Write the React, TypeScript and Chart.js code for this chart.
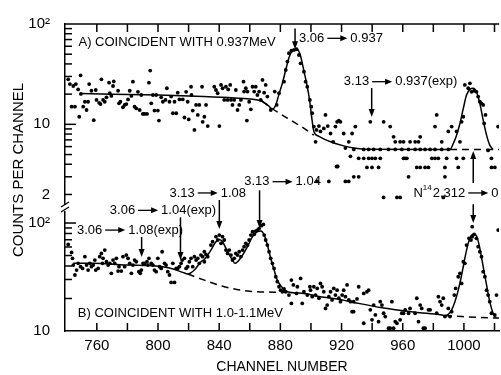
import React, { useEffect, useRef } from 'react';
import { Chart, registerables } from 'chart.js';

Chart.register(...registerables);

const FONT = '"Liberation Sans", "DejaVu Sans", Arial, sans-serif';

// ---- axis ranges & ticks ----
const X_MIN = 739.2;
const X_MAX = 1023;
const X_LABEL_TICKS = [760, 800, 840, 880, 920, 960, 1000];
const X_MARK_TICKS = [760, 780, 800, 820, 840, 860, 880, 900, 920, 940, 960, 980, 1000, 1020];

const TOP_MIN = 1.4;
const TOP_MAX = 100;
const TOP_LABEL_TICKS = [2, 10, 100];
const TOP_MINOR_TICKS = [2, 3, 4, 5, 6, 7, 8, 9, 20, 30, 40, 50, 60, 70, 80, 90];
const TOP_MAJOR_TICKS = [10];

const BOT_MIN = 10;
const BOT_MAX = 132;
const BOT_LABEL_TICKS = [10, 100];
const BOT_MINOR_TICKS = [20, 30, 40, 50, 60, 70, 80, 90];
const BOT_MAJOR_TICKS = [100];

// ---- panel A: coincident with 0.937 MeV  [channel, counts] ----
const TOP_POINTS: [number, number][] = [
  [741.3, 28.1], [742.4, 25.2], [744.6, 24.1], [746.3, 25.2], [749.4, 30.8], [747.8, 22.3], [749.6, 20.1],
  [743.5, 15.0], [745.7, 15.0], [748.5, 11.9], [751.1, 15.0], [752.2, 16.8], [753.3, 13.9], [754.3, 16.8],
  [755.0, 25.2], [756.5, 21.6], [758.0, 11.0], [759.3, 22.0], [759.8, 17.5], [761.5, 16.4], [763.0, 28.1],
  [762.4, 15.9], [764.1, 17.5], [765.2, 16.8], [766.3, 18.6], [768.0, 26.0], [768.5, 20.4], [769.5, 19.2],
  [770.6, 24.1], [771.1, 26.8], [773.9, 21.6], [774.5, 16.2], [775.4, 16.8], [777.1, 14.8], [778.2, 15.6],
  [779.3, 15.9], [780.4, 17.7], [781.5, 21.6], [782.6, 19.2], [783.6, 26.6], [784.7, 15.0], [785.8, 14.4],
  [786.9, 21.1], [788.0, 13.9], [789.1, 19.6], [790.1, 12.7], [791.2, 12.7], [792.8, 12.7], [794.1, 26.0],
  [794.9, 34.3], [795.6, 16.2], [796.7, 19.6], [798.8, 19.6], [797.7, 13.7], [799.9, 13.7], [800.6, 10.9],
  [802.1, 18.6], [803.2, 16.8], [804.9, 17.5], [805.8, 22.9], [807.5, 16.8], [808.6, 18.9], [809.7, 12.9],
  [810.8, 16.8], [811.9, 12.9], [812.9, 20.7], [814.0, 17.7], [816.2, 17.7], [817.3, 11.7], [818.4, 21.1],
  [819.4, 16.8], [820.1, 11.2], [821.6, 23.7], [821.9, 19.6], [822.7, 13.7], [823.8, 8.8], [824.9, 15.6],
  [826.0, 12.4], [827.0, 15.6], [828.8, 23.7], [829.2, 10.6], [830.3, 11.9], [831.4, 15.6], [832.5, 9.6],
  [836.8, 23.7], [837.9, 22.0], [839.0, 20.4], [840.1, 9.6], [841.2, 24.7], [842.2, 22.9], [843.3, 17.5],
  [844.4, 23.7], [845.5, 17.5], [845.9, 22.3], [847.2, 24.7], [847.7, 17.5], [848.7, 15.6], [849.8, 17.5],
  [850.9, 22.0], [852.0, 13.9], [853.1, 15.6], [854.2, 17.5], [855.9, 26.6], [856.3, 21.2], [857.4, 22.9],
  [858.1, 10.9], [858.5, 21.2], [859.6, 16.8], [860.7, 14.1], [861.8, 23.7], [862.9, 21.2], [863.9, 23.7],
  [865.0, 19.6], [866.1, 21.2], [867.2, 17.5], [868.3, 27.7], [869.4, 20.7], [870.4, 24.7], [871.5, 18.9],
  [873.7, 13.9], [876.3, 21.2], [877.6, 15.6], [879.1, 20.4], [882.4, 26.6], [883.5, 34.8], [884.6, 42.2],
  [885.6, 51.1], [887.2, 54.2], [888.9, 55.1], [890.6, 56.0], [892.1, 49.1], [893.2, 40.6], [895.4, 33.5],
  [896.5, 26.6], [897.6, 23.7], [899.3, 17.5], [900.2, 15.0], [900.8, 12.9], [901.9, 9.5], [903.6, 8.8],
  [905.2, 9.6], [906.2, 8.5], [903.0, 6.7], [908.4, 9.1], [909.5, 12.4], [911.0, 9.6], [912.8, 8.1],
  [916.0, 9.5], [917.1, 10.6], [918.2, 10.9], [919.3, 10.6], [914.5, 6.7], [921.4, 8.1], [922.5, 5.8],
  [924.7, 6.7], [925.8, 4.8], [926.9, 8.1], [916.7, 3.8], [917.5, 3.8], [904.1, 2.7], [911.7, 2.7],
  [922.5, 2.7], [924.7, 2.7], [928.0, 3.0], [931.2, 3.0],
  [929.0, 9.5], [938.8, 10.6], [947.5, 10.6], [951.8, 9.5], [954.0, 7.5], [955.1, 6.7], [958.3, 6.7],
  [960.5, 6.7], [964.8, 6.7], [968.1, 6.7], [970.3, 6.7], [971.4, 7.5], [982.2, 12.4], [981.1, 9.5],
  [985.5, 6.7], [989.8, 8.5], [992.0, 9.5], [995.2, 8.5], [997.4, 6.7], [998.5, 10.6], [999.6, 11.9],
  [1000.6, 24.7], [1002.8, 22.9], [1003.9, 25.6], [1005.0, 21.1], [1006.7, 21.6], [1008.2, 21.1],
  [1009.3, 18.9], [1010.4, 16.8], [1011.5, 16.2], [1012.6, 15.6], [1013.2, 10.2], [1014.1, 12.4],
  [928.0, 5.62], [934.5, 5.62], [937.7, 5.62], [941.0, 5.62], [945.3, 5.62], [950.7, 5.62], [955.1, 5.62],
  [959.4, 5.62], [963.8, 5.62], [968.1, 5.62], [971.4, 5.62], [974.6, 5.62], [977.9, 5.62], [981.1, 5.62],
  [985.5, 5.62], [989.8, 5.62],
  [931.2, 4.58], [934.5, 4.58], [937.7, 4.58], [939.9, 4.58], [942.1, 4.58], [945.3, 4.58], [960.5, 4.58],
  [961.6, 4.58], [962.7, 4.58], [979.0, 4.58], [981.1, 4.58], [983.3, 4.58], [988.7, 4.58], [995.2, 4.58],
  [999.6, 4.58], [1018.0, 4.58],
  [936.6, 3.72], [939.9, 3.72], [944.2, 3.72], [969.2, 3.72], [971.4, 3.72], [974.6, 3.72], [976.8, 3.72],
  [987.6, 3.72], [996.3, 3.72], [1018.0, 3.72], [1020.2, 3.72],
  [963.8, 3.0], [987.6, 3.0],
  [947.5, 1.87], [956.2, 1.87], [958.3, 1.87], [986.5, 1.87],
  [1022.3, 9.5], [1015.8, 5.5],
];

const TOP_FIT: [number, number][] = [
  [749, 20.3], [770, 20.0], [800, 19.6], [830, 18.9], [850, 18.3], [862, 17.8], [868, 17.0], [872, 15.4],
  [874.8, 14.2], [877, 15.6], [879.1, 20], [881.3, 25.7], [883.5, 34.8], [885.6, 46], [887.2, 52.5],
  [888.9, 55], [891, 56], [893.2, 48], [895.4, 34], [897.6, 23.7], [899.3, 16.5], [900.8, 10.8],
  [901.9, 8.5], [905.2, 7.6], [912.8, 6.7], [921.4, 6.1], [928, 5.8], [935, 5.65], [990.9, 5.62],
  [993.1, 6.46], [995.2, 7.8], [997.4, 10.2], [999.6, 14.4], [1001.7, 19.6], [1003.9, 22.3],
  [1006.1, 22.9], [1008.2, 21.1], [1010.4, 16.2], [1012.6, 11.0], [1014.8, 7.8], [1016.9, 6.2],
  [1019.1, 5.62],
];
const TOP_BACKGROUND_A: [number, number][] = [
  [868, 17.0], [874.8, 14.3], [884.6, 11.5], [893.2, 9.6], [901.9, 7.8],
];
const TOP_BACKGROUND_B: [number, number][] = [
  [990.9, 5.62], [1023, 5.62],
];

// ---- panel B: coincident with 1.0-1.1 MeV  [channel, counts] ----
const BOTTOM_POINTS: [number, number][] = [
  [741.3, 63.4], [743.5, 53.4], [744.1, 47.1], [744.6, 40.8], [745.7, 33.0], [746.8, 36.7], [747.8, 42.3],
  [749.4, 39.4], [750.7, 38.0], [752.2, 48.8], [753.3, 40.8], [754.3, 36.7], [755.4, 42.3], [756.5, 39.4],
  [757.6, 40.8], [758.7, 45.4], [759.3, 36.7], [760.9, 38.0], [761.9, 48.8], [763.0, 52.3], [763.7, 42.3],
  [764.1, 47.1], [765.2, 56.2], [766.3, 43.8], [767.4, 40.8], [768.5, 42.3], [769.5, 34.2], [770.6, 45.4],
  [771.7, 42.3], [772.8, 47.1], [773.9, 35.9], [774.5, 39.4], [776.0, 35.9], [777.1, 48.8], [778.2, 39.4],
  [779.3, 50.5], [780.4, 47.1], [781.5, 42.3], [782.6, 34.2], [783.6, 40.8], [784.7, 45.4], [785.8, 43.8],
  [787.5, 35.4], [788.4, 34.2], [789.1, 36.7], [790.2, 42.3], [791.2, 42.3], [792.8, 43.8], [793.4, 40.8],
  [794.1, 47.1], [795.6, 42.3], [796.7, 40.8], [797.7, 36.7], [798.8, 35.4], [799.9, 47.1], [801.0, 39.4],
  [802.1, 38.0], [802.7, 54.2], [804.3, 42.3], [805.3, 40.8], [806.4, 35.4], [807.5, 33.0], [808.6, 28.2],
  [810.8, 28.2], [809.7, 42.3], [811.9, 38.0], [812.9, 38.0], [814.0, 39.4], [815.1, 42.3], [815.8, 45.4],
  [817.3, 47.1], [818.4, 38.0], [819.4, 39.4], [820.5, 43.8], [821.6, 47.1], [822.7, 39.4], [823.8, 48.8],
  [824.9, 45.4], [826.0, 47.1], [827.0, 42.3], [828.1, 50.5], [829.2, 48.8], [830.3, 54.2], [831.4, 51.2],
  [830.3, 43.8], [832.5, 48.8], [834.6, 62.5], [835.7, 67.1], [837.9, 74.7], [839.0, 69.6], [840.1, 77.4],
  [841.2, 64.8], [842.2, 74.7], [843.3, 69.6], [844.4, 56.2], [845.5, 52.3], [846.6, 56.2], [847.7, 50.5],
  [848.7, 45.4], [849.8, 47.1], [850.9, 52.3], [852.0, 50.5], [853.1, 54.2], [854.2, 48.8], [855.3, 56.2],
  [856.3, 60.4], [857.4, 64.8], [858.5, 62.5], [859.6, 69.6], [860.7, 77.4], [861.8, 83.1], [862.9, 78.5],
  [863.9, 84.3], [865.0, 86.1], [866.1, 89.2], [867.6, 94.4], [868.9, 97.1], [869.4, 77.4], [870.4, 69.6],
  [871.5, 62.5], [872.6, 54.2], [873.7, 47.1], [874.8, 42.3], [875.9, 38.0], [877.0, 31.8], [878.0, 28.6],
  [879.1, 25.7], [880.2, 23.9], [881.3, 23.1], [882.4, 24.5], [883.5, 23.1], [885.6, 21.5], [887.2, 29.6],
  [888.5, 26.7], [891.1, 25.7], [893.2, 30.7], [887.2, 18.0], [890.6, 22.3], [894.3, 18.0], [895.4, 23.1],
  [897.6, 21.5], [899.3, 25.7], [899.7, 23.9], [900.8, 20.8], [901.9, 25.7], [903.0, 21.5], [904.1, 24.8],
  [905.2, 20.1], [906.2, 27.6], [907.3, 25.7], [908.4, 23.1], [909.5, 16.2], [910.6, 17.4], [911.7, 20.8],
  [912.8, 23.1], [913.8, 19.4], [914.9, 24.8], [916.0, 21.5], [917.1, 23.9], [918.2, 20.1], [919.3, 18.7],
  [920.4, 21.5], [921.4, 23.9], [922.5, 20.8], [923.6, 26.7], [924.7, 19.4], [925.8, 18.7], [926.9, 15.1],
  [927.9, 18.7], [930.1, 19.8], [931.2, 25.7], [934.5, 22.3], [936.6, 23.1], [927.9, 15.1], [937.7, 23.9],
  [938.8, 15.7], [941.0, 17.4], [934.5, 11.8], [939.9, 12.7], [942.1, 14.1], [944.2, 12.2], [945.3, 18.7],
  [946.4, 17.4], [947.5, 14.6], [948.6, 13.6], [950.7, 10.6], [951.8, 10.6], [952.9, 18.7], [954.0, 10.6],
  [955.1, 12.2], [956.2, 11.8], [958.3, 12.7], [959.4, 14.6], [960.5, 14.6], [961.6, 15.7], [963.8, 14.6],
  [964.8, 16.2], [968.1, 14.6], [969.2, 20.1], [970.3, 12.2], [971.4, 17.4], [972.4, 16.2], [973.5, 10.6],
  [974.6, 10.6], [976.8, 15.7], [977.9, 15.7], [982.2, 14.6], [983.3, 20.8], [984.4, 18.7], [985.5, 17.4],
  [986.5, 20.1], [987.6, 13.6], [989.8, 16.2], [990.9, 13.6], [992.0, 15.1], [993.7, 21.5], [994.6, 24.8],
  [996.3, 31.8], [997.4, 34.2], [998.5, 27.6], [999.6, 43.8], [1000.6, 42.3], [1001.7, 62.5], [1003.3, 72.1],
  [1004.6, 69.6], [1005.4, 74.7], [1006.7, 78.5], [1008.2, 72.1], [1009.3, 60.4], [1010.4, 54.2],
  [1011.5, 48.8], [1012.6, 35.4], [1013.7, 31.8], [1014.8, 23.9], [1015.8, 21.5], [1016.9, 18.7],
  [1018.0, 14.6], [1005.4, 92.5], [1021.3, 21.5], [1020.2, 14.1], [1022.4, 86.0],
];

const BOTTOM_FIT: [number, number][] = [
  [744.6, 42.3], [757.6, 42.3], [779.3, 40.8], [796.7, 40.3], [807.5, 38.3], [816.2, 34.9], [819.4, 33.7],
  [823.8, 36.7], [828.1, 43.8], [830.3, 46], [834.6, 56.2], [837.9, 67.1], [840.1, 70.4], [842.2, 67.1],
  [845.5, 54.2], [848.7, 45.4], [850.3, 42.3], [852, 43.8], [855.3, 50.5], [858.5, 60.4], [861.8, 74.7],
  [865, 83.1], [867.2, 84.3], [869.4, 77.4], [871.5, 62.5], [873.7, 47.1], [875.9, 36.7], [878, 29.6],
  [881.3, 25.2], [884.5, 23.1], [895.4, 22.3], [906.2, 20.8], [917.1, 19.8], [928, 18.4], [946.4, 16.4],
  [968.1, 14.9], [985.5, 14.1], [987.6, 13.9], [989.8, 14.3], [992, 15.7], [994.1, 18.7], [996.3, 23.9],
  [998.5, 33], [1000.6, 47.1], [1002.8, 64.8], [1005, 77.4], [1006.7, 78.5], [1008.5, 74.7], [1010.4, 58.3],
  [1012.6, 39.4], [1014.8, 26.7], [1016.9, 18.7], [1018.7, 15.1], [1020.2, 13.6], [1021.3, 13.3],
];
const BOTTOM_BACKGROUND_A: [number, number][] = [
  [819.4, 33.7], [830.3, 29.6], [843.3, 25.7], [858.5, 23.5], [875.9, 22.9], [884.5, 22.9],
];
const BOTTOM_BACKGROUND_B: [number, number][] = [
  [987.6, 13.9], [1021.3, 13.2], [1023, 13.2],
];

// ---- annotations (anchored in data coordinates) ----
const PANEL_TITLES = [
  { text: 'A) COINCIDENT WITH 0.937MeV', c: 748, v: 65, axis: 'yTop' },
  { text: 'B) COINCIDENT WITH 1.0-1.1MeV', c: 747.6, v: 14.7, axis: 'yBot' },
];
const TRANSITIONS = [
  { pre: '', sup: '', from: '3.06', to: '0.937', c: 892.2, v: 72, axis: 'yTop' },
  { pre: '', sup: '', from: '3.13', to: '0.937(exp)', c: 921.5, v: 26.6, axis: 'yTop' },
  { pre: 'N', sup: '14', from: '2.312', to: '0', c: 967, v: 2.07, axis: 'yTop' },
  { pre: '', sup: '', from: '3.13', to: '1.04', c: 856.4, v: 2.68, axis: 'yTop' },
  { pre: '', sup: '', from: '3.13', to: '1.08', c: 807.5, v: 2.07, axis: 'yTop' },
  { pre: '', sup: '', from: '3.06', to: '1.04(exp)', c: 768.5, v: 131, axis: 'yBot' },
  { pre: '', sup: '', from: '3.06', to: '1.08(exp)', c: 747, v: 86, axis: 'yBot' },
];
const POINTERS = [
  { c: 889.6, v1: 90, a1: 'yTop', v2: 56, a2: 'yTop' },
  { c: 939.7, v1: 23, a1: 'yTop', v2: 11.8, a2: 'yTop' },
  { c: 1006.1, v1: 2.6, a1: 'yTop', v2: 5.42, a2: 'yTop' },
  { c: 1006.1, v1: 1.6, a1: 'yTop', v2: 100, a2: 'yBot' },
  { c: 866.4, v1: 2.2, a1: 'yTop', v2: 90, a2: 'yBot' },
  { c: 840.1, v1: 1.76, a1: 'yTop', v2: 88, a2: 'yBot' },
  { c: 814.7, v1: 113, a1: 'yBot', v2: 45.4, a2: 'yBot' },
  { c: 789.3, v1: 74, a1: 'yBot', v2: 48.5, a2: 'yBot' },
];

const toXY = (arr: [number, number][]) => arr.map(([x, y]) => ({ x, y }));

const decorPlugin = {
  id: 'decor',
  afterDraw(chart: any) {
    const ctx = chart.ctx as CanvasRenderingContext2D;
    const { left, right, top, bottom } = chart.chartArea;
    const xs = chart.scales.x;
    const yt = chart.scales.yTop;
    const yb = chart.scales.yBot;
    const scaleOf = (a: string) => (a === 'yTop' ? yt : yb);
    const seg = (x1: number, y1: number, x2: number, y2: number) => {
      ctx.beginPath();
      ctx.moveTo(x1, y1);
      ctx.lineTo(x2, y2);
      ctx.stroke();
    };
    ctx.save();
    ctx.strokeStyle = '#000';
    ctx.fillStyle = '#000';
    ctx.lineWidth = 1.5;

    // top frame line
    seg(left, top, right, top);

    // inward tick marks on x (top and bottom)
    for (const v of X_MARK_TICKS) {
      const px = xs.getPixelForValue(v);
      seg(px, top, px, top + 8);
      seg(px, bottom, px, bottom - 8);
    }
    // inward y ticks
    for (const v of TOP_MINOR_TICKS) { const py = yt.getPixelForValue(v); seg(left, py, left + 7, py); }
    for (const v of TOP_MAJOR_TICKS) { const py = yt.getPixelForValue(v); seg(left, py, left + 11, py); }
    for (const v of BOT_MINOR_TICKS) { const py = yb.getPixelForValue(v); seg(left, py, left + 7, py); }
    for (const v of BOT_MAJOR_TICKS) { const py = yb.getPixelForValue(v); seg(left, py, left + 11, py); }

    // axis break marks
    const by = yt.bottom - 1;
    ctx.fillStyle = '#fff';
    ctx.fillRect(left - 3, by - 4, 6, 6);
    ctx.fillStyle = '#000';
    ctx.lineWidth = 1.3;
    seg(left - 4, by - 2, left + 4, by - 7);
    seg(left - 4, by + 3, left + 4, by - 2);
    ctx.lineWidth = 1.5;

    // vertical pointer arrows
    for (const p of POINTERS) {
      const px = xs.getPixelForValue(p.c);
      const y1 = scaleOf(p.a1).getPixelForValue(p.v1);
      const y2 = scaleOf(p.a2).getPixelForValue(p.v2);
      const dir = y2 > y1 ? 1 : -1;
      seg(px, y1, px, y2 - dir * 5);
      ctx.beginPath();
      ctx.moveTo(px, y2);
      ctx.lineTo(px - 3, y2 - dir * 8);
      ctx.lineTo(px + 3, y2 - dir * 8);
      ctx.closePath();
      ctx.fill();
    }

    // panel titles
    ctx.textBaseline = 'middle';
    ctx.textAlign = 'left';
    ctx.font = `13px ${FONT}`;
    for (const t of PANEL_TITLES) {
      ctx.fillText(t.text, xs.getPixelForValue(t.c), scaleOf(t.axis).getPixelForValue(t.v));
    }

    // transition labels  "a ──► b"
    for (const t of TRANSITIONS) {
      let x = xs.getPixelForValue(t.c);
      const y = scaleOf(t.axis).getPixelForValue(t.v);
      ctx.font = `13px ${FONT}`;
      if (t.pre) {
        ctx.fillText(t.pre, x, y);
        x += ctx.measureText(t.pre).width;
        ctx.font = `8px ${FONT}`;
        ctx.fillText(t.sup, x, y - 5);
        x += ctx.measureText(t.sup).width + 1;
        ctx.font = `13px ${FONT}`;
      }
      ctx.fillText(t.from, x, y);
      x += ctx.measureText(t.from).width + 3;
      const len = 20;
      ctx.lineWidth = 1.3;
      seg(x, y, x + len - 5, y);
      ctx.beginPath();
      ctx.moveTo(x + len, y);
      ctx.lineTo(x + len - 7, y - 3);
      ctx.lineTo(x + len - 7, y + 3);
      ctx.closePath();
      ctx.fill();
      x += len + 3;
      ctx.fillText(t.to, x, y);
    }

    // axis titles
    ctx.font = `15px ${FONT}`;
    ctx.textAlign = 'center';
    ctx.save();
    ctx.translate(19, 170);
    ctx.rotate(-Math.PI / 2);
    ctx.fillText('COUNTS PER CHANNEL', 0, 0);
    ctx.restore();
    ctx.font = `14px ${FONT}`;
    ctx.fillText('CHANNEL NUMBER', 282, 367);
    ctx.restore();
  },
};

export default function App() {
  const ref = useRef<HTMLCanvasElement>(null);
  useEffect(() => {
    document.body.style.margin = '0';
    const canvas = ref.current as HTMLCanvasElement;
    const dot = { pointRadius: 1.9, pointHoverRadius: 1.9, backgroundColor: '#000', borderWidth: 0, showLine: false };
    const line = { pointRadius: 0, borderColor: '#000', borderWidth: 1.5, showLine: true, fill: false, cubicInterpolationMode: 'monotone' };
    const chart = new Chart(canvas, {
      type: 'scatter',
      data: {
        datasets: [
          { label: 'A counts', data: toXY(TOP_POINTS), yAxisID: 'yTop', ...dot },
          { label: 'A fit', data: toXY(TOP_FIT), yAxisID: 'yTop', ...line },
          { label: 'A background', data: toXY(TOP_BACKGROUND_A), yAxisID: 'yTop', ...line, borderDash: [7, 5] },
          { label: 'A background 2', data: toXY(TOP_BACKGROUND_B), yAxisID: 'yTop', ...line, borderDash: [7, 5] },
          { label: 'B counts', data: toXY(BOTTOM_POINTS), yAxisID: 'yBot', ...dot },
          { label: 'B fit', data: toXY(BOTTOM_FIT), yAxisID: 'yBot', ...line },
          { label: 'B background', data: toXY(BOTTOM_BACKGROUND_A), yAxisID: 'yBot', ...line, borderDash: [7, 5] },
          { label: 'B background 2', data: toXY(BOTTOM_BACKGROUND_B), yAxisID: 'yBot', ...line, borderDash: [7, 5] },
        ] as any,
      },
      options: {
        responsive: false,
        animation: false,
        devicePixelRatio: 1,
        layout: { padding: { top: 24, left: 0, right: 0, bottom: 0 } },
        plugins: { legend: { display: false }, tooltip: { enabled: false } },
        scales: {
          x: {
            type: 'linear',
            position: 'bottom',
            min: X_MIN,
            max: X_MAX,
            grid: { display: false },
            border: { display: true, color: '#000', width: 1.5 },
            ticks: {
              color: '#000',
              font: { family: FONT, size: 15 },
              padding: -2,
              maxRotation: 0,
              autoSkip: false,
              callback: (v: any) => String(v),
            },
            afterBuildTicks: (s: any) => { s.ticks = X_LABEL_TICKS.map((value) => ({ value })); },
            afterFit: (s: any) => { s.height = 44; s.paddingLeft = 0; s.paddingRight = 0; },
          },
          yBot: {
            type: 'logarithmic',
            position: 'left',
            stack: 'panels',
            stackWeight: 121,
            min: BOT_MIN,
            max: BOT_MAX,
            grid: { display: false },
            border: { display: true, color: '#000', width: 1.5 },
            ticks: {
              color: '#000',
              font: { family: FONT, size: 15 },
              padding: 7,
              autoSkip: false,
              callback: (v: any) => (v === 100 ? '10²' : String(v)),
            },
            afterBuildTicks: (s: any) => { s.ticks = BOT_LABEL_TICKS.map((value) => ({ value })); },
            afterFit: (s: any) => { s.width = 65; s.paddingTop = 0; s.paddingBottom = 0; },
          },
          yTop: {
            type: 'logarithmic',
            position: 'left',
            stack: 'panels',
            stackWeight: 186,
            min: TOP_MIN,
            max: TOP_MAX,
            grid: { display: false },
            border: { display: true, color: '#000', width: 1.5 },
            ticks: {
              color: '#000',
              font: { family: FONT, size: 15 },
              padding: 7,
              autoSkip: false,
              callback: (v: any) => (v === 100 ? '10²' : String(v)),
            },
            afterBuildTicks: (s: any) => { s.ticks = TOP_LABEL_TICKS.map((value) => ({ value })); },
            afterFit: (s: any) => { s.width = 65; s.paddingTop = 0; s.paddingBottom = 0; },
          },
        },
      } as any,
      plugins: [decorPlugin],
    });
    return () => chart.destroy();
  }, []);
  return (
    <div style={{ width: 501, height: 375, background: '#fff' }}>
      <canvas ref={ref} width={501} height={375} style={{ display: 'block' }} />
    </div>
  );
}
